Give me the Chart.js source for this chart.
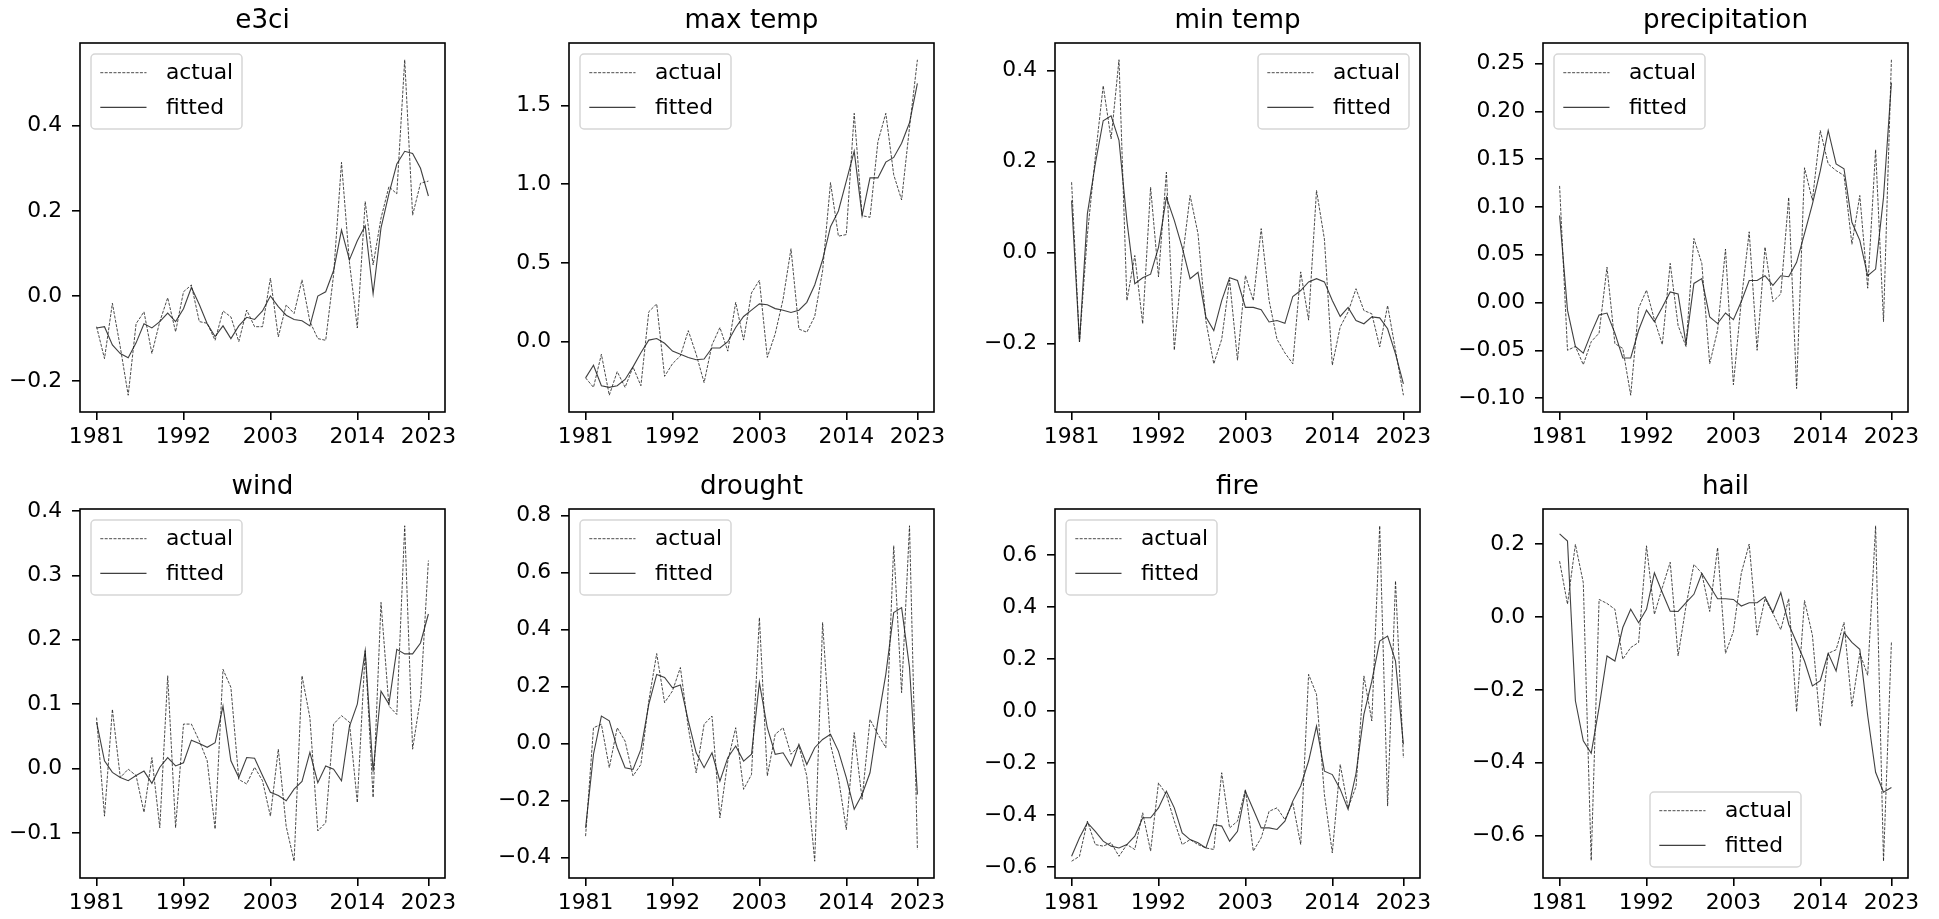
<!DOCTYPE html>
<html lang="en">
<head>
<meta charset="UTF-8">
<title>actual vs fitted</title>
<script src="https://cdn.jsdelivr.net/npm/chart.js@4.4.1/dist/chart.umd.min.js"></script>
<style>
    html, body { margin: 0; padding: 0; background: #fff; }
    body { width: 1939px; height: 919px; position: relative; overflow: hidden; }
    canvas { position: absolute; }
</style>
</head>
<body>
<script>
// years on the x axis
const years = [];
for (let y = 1981; y <= 2023; y++) years.push(y);
const xTicks = [1981, 1992, 2003, 2014, 2023];

const e3ciActual = [-0.072,-0.147,-0.017,-0.12,-0.233,-0.065,-0.037,-0.135,-0.06,-0.004,-0.084,0.01,0.026,-0.06,-0.064,-0.104,-0.035,-0.049,-0.107,-0.033,-0.072,-0.072,0.042,-0.096,-0.021,-0.041,0.038,-0.06,-0.1,-0.104,0.05,0.314,0.08,-0.075,0.222,0.073,0.183,0.257,0.24,0.555,0.19,0.265,0.27];
const e3ciFitted = [-0.075,-0.072,-0.115,-0.135,-0.145,-0.11,-0.065,-0.075,-0.06,-0.04,-0.06,-0.03,0.02,-0.02,-0.065,-0.095,-0.07,-0.1,-0.07,-0.05,-0.055,-0.035,0.0,-0.025,-0.045,-0.055,-0.058,-0.07,0.0,0.01,0.06,0.155,0.085,0.13,0.165,0.005,0.16,0.24,0.31,0.34,0.335,0.3,0.235];
const e3ciTicks = [-0.2, 0, 0.2, 0.4];

const maxTempActual = [-0.23,-0.29,-0.08,-0.34,-0.19,-0.29,-0.16,-0.28,0.19,0.24,-0.22,-0.14,-0.09,0.07,-0.08,-0.26,-0.02,0.09,-0.06,0.25,0.01,0.31,0.39,-0.10,0.05,0.27,0.59,0.08,0.06,0.16,0.45,1.01,0.67,0.68,1.45,0.80,0.79,1.27,1.45,1.06,0.90,1.36,1.79];
const maxTempFitted = [-0.23,-0.15,-0.28,-0.29,-0.28,-0.24,-0.16,-0.07,0.01,0.02,-0.01,-0.06,-0.08,-0.10,-0.115,-0.11,-0.04,-0.04,0.0,0.09,0.16,0.2,0.24,0.235,0.21,0.2,0.185,0.2,0.25,0.36,0.52,0.73,0.83,1.02,1.21,0.8,1.04,1.04,1.14,1.17,1.26,1.39,1.64];
const maxTempTicks = [0, 0.5, 1.0, 1.5];

const minTempActual = [0.155,-0.196,0.04,0.21,0.367,0.25,0.424,-0.105,-0.006,-0.156,0.144,-0.053,0.177,-0.214,-0.017,0.126,0.042,-0.15,-0.244,-0.19,-0.06,-0.236,-0.05,-0.105,0.053,-0.105,-0.19,-0.22,-0.244,-0.042,-0.148,0.137,0.03,-0.247,-0.163,-0.13,-0.079,-0.127,-0.134,-0.207,-0.116,-0.214,-0.313];
const minTempFitted = [0.115,-0.196,0.086,0.195,0.29,0.301,0.247,0.07,-0.068,-0.055,-0.047,0.012,0.122,0.071,0.012,-0.057,-0.043,-0.141,-0.171,-0.105,-0.055,-0.061,-0.12,-0.12,-0.125,-0.152,-0.149,-0.155,-0.096,-0.083,-0.064,-0.057,-0.064,-0.105,-0.14,-0.12,-0.149,-0.156,-0.141,-0.143,-0.167,-0.222,-0.288];
const minTempTicks = [-0.2, 0, 0.2, 0.4];

const precipActual = [0.122,-0.05,-0.046,-0.065,-0.041,-0.032,0.037,-0.043,-0.048,-0.097,-0.006,0.013,-0.018,-0.044,0.041,-0.024,-0.046,0.067,0.041,-0.064,-0.029,0.056,-0.086,0.002,0.074,-0.05,0.058,0.001,0.009,0.11,-0.09,0.141,0.107,0.18,0.145,0.138,0.133,0.061,0.112,0.015,0.16,-0.02,0.254];
const precipFitted = [0.091,-0.008,-0.046,-0.053,-0.032,-0.013,-0.011,-0.032,-0.058,-0.058,-0.029,-0.008,-0.02,-0.005,0.011,0.009,-0.043,0.02,0.025,-0.015,-0.022,-0.011,-0.018,0.001,0.023,0.023,0.028,0.018,0.028,0.027,0.042,0.072,0.103,0.138,0.18,0.145,0.14,0.084,0.065,0.028,0.035,0.11,0.23];
const precipTicks = [-0.1, -0.05, 0, 0.05, 0.1, 0.15, 0.2, 0.25];

const windActual = [0.079,-0.074,0.092,-0.014,-0.001,-0.011,-0.068,0.017,-0.092,0.144,-0.092,0.069,0.069,0.043,0.012,-0.094,0.154,0.126,-0.017,-0.024,0.002,-0.019,-0.074,0.03,-0.09,-0.144,0.144,0.079,-0.097,-0.084,0.069,0.082,0.072,-0.053,0.183,-0.045,0.258,0.097,0.084,0.377,0.03,0.11,0.323];
const windFitted = [0.072,0.012,-0.006,-0.014,-0.019,-0.011,-0.004,-0.023,0.002,0.017,0.004,0.009,0.044,0.039,0.033,0.04,0.097,0.012,-0.014,0.017,0.016,-0.011,-0.037,-0.042,-0.05,-0.032,-0.02,0.025,-0.022,0.004,-0.001,-0.019,0.065,0.1,0.183,-0.005,0.12,0.1,0.185,0.178,0.178,0.195,0.24];
const windTicks = [-0.1, 0, 0.1, 0.2, 0.3, 0.4];

const droughtActual = [-0.324,0.056,0.068,-0.084,0.056,0.009,-0.113,-0.073,0.15,0.316,0.144,0.185,0.267,0.056,-0.102,0.068,0.097,-0.26,-0.061,0.056,-0.16,-0.108,0.442,-0.113,0.033,0.056,-0.037,-0.008,-0.113,-0.412,0.425,-0.002,-0.119,-0.301,0.039,-0.195,0.085,0.033,-0.014,0.694,0.179,0.764,-0.371];
const droughtFitted = [-0.295,-0.037,0.097,0.08,-0.014,-0.084,-0.09,-0.02,0.138,0.243,0.232,0.196,0.206,0.08,-0.032,-0.084,-0.032,-0.131,-0.049,-0.008,-0.061,-0.037,0.214,0.056,-0.037,-0.032,-0.078,-0.002,-0.073,-0.014,0.015,0.033,-0.026,-0.119,-0.23,-0.178,-0.102,0.08,0.243,0.46,0.477,0.267,-0.178];
const droughtTicks = [-0.4, -0.2, 0, 0.2, 0.4, 0.6, 0.8];

const fireActual = [-0.577,-0.558,-0.423,-0.513,-0.519,-0.506,-0.558,-0.513,-0.532,-0.391,-0.538,-0.276,-0.321,-0.423,-0.513,-0.494,-0.513,-0.526,-0.532,-0.237,-0.449,-0.423,-0.301,-0.538,-0.487,-0.385,-0.372,-0.417,-0.353,-0.513,0.141,0.064,-0.321,-0.545,-0.205,-0.372,-0.29,0.135,-0.038,0.712,-0.365,0.5,-0.18];
const fireFitted = [-0.558,-0.487,-0.429,-0.462,-0.5,-0.519,-0.526,-0.513,-0.481,-0.41,-0.41,-0.372,-0.308,-0.372,-0.468,-0.494,-0.506,-0.526,-0.436,-0.442,-0.5,-0.462,-0.308,-0.378,-0.449,-0.449,-0.455,-0.423,-0.346,-0.288,-0.192,-0.058,-0.231,-0.244,-0.3,-0.378,-0.24,-0.013,0.115,0.269,0.288,0.192,-0.128];
const fireTicks = [-0.6, -0.4, -0.2, 0, 0.2, 0.4, 0.6];

const hailActual = [0.153,0.035,0.199,0.094,-0.668,0.048,0.037,0.021,-0.116,-0.084,-0.07,0.195,0.007,0.08,0.15,-0.107,0.03,0.144,0.12,0.015,0.19,-0.1,-0.04,0.12,0.2,-0.05,0.05,0.01,-0.035,0.05,-0.26,0.045,-0.05,-0.3,-0.1,-0.09,-0.015,-0.245,-0.1,-0.16,0.25,-0.67,-0.07];
const hailFitted = [0.228,0.208,-0.23,-0.34,-0.374,-0.248,-0.107,-0.121,-0.029,0.021,-0.016,0.021,0.121,0.067,0.016,0.015,0.039,0.062,0.119,0.085,0.05,0.05,0.048,0.03,0.039,0.039,0.055,0.012,0.067,-0.02,-0.07,-0.121,-0.189,-0.175,-0.1,-0.148,-0.043,-0.07,-0.089,-0.271,-0.426,-0.481,-0.468];
const hailTicks = [-0.6, -0.4, -0.2, 0, 0.2];

const panels = [
    { title: 'e3ci',          actual: e3ciActual,    fitted: e3ciFitted,    ticks: e3ciTicks,    dec: 1 },
    { title: 'max temp',      actual: maxTempActual, fitted: maxTempFitted, ticks: maxTempTicks, dec: 1 },
    { title: 'min temp',      actual: minTempActual, fitted: minTempFitted, ticks: minTempTicks, dec: 1 },
    { title: 'precipitation', actual: precipActual,  fitted: precipFitted,  ticks: precipTicks,  dec: 2 },
    { title: 'wind',          actual: windActual,    fitted: windFitted,    ticks: windTicks,    dec: 1 },
    { title: 'drought',       actual: droughtActual, fitted: droughtFitted, ticks: droughtTicks, dec: 1 },
    { title: 'fire',          actual: fireActual,    fitted: fireFitted,    ticks: fireTicks,    dec: 1 },
    { title: 'hail',          actual: hailActual,    fitted: hailFitted,    ticks: hailTicks,    dec: 1 }
];

// where each legend sits inside its axes
const legendLoc = ['upper left', 'upper left', 'upper right', 'upper left',
                   'upper left', 'upper left', 'upper left', 'lower center'];

// plot area geometry
const colLeft = [80, 569, 1055, 1543];
const rowTop = [43, 509];
const plotW = 365, plotH = 369;
const padL = 90, padR = 20, padT = 50, padB = 60;

Chart.defaults.font.family = '"DejaVu Sans", sans-serif';
Chart.defaults.color = '#000';

// black box around the plot area (matplotlib spines)
const frame = {
    id: 'frame',
    afterDatasetsDraw(chart) {
        const a = chart.chartArea, ctx = chart.ctx;
        ctx.save();
        ctx.strokeStyle = '#000';
        ctx.lineWidth = 1.6;
        ctx.strokeRect(a.left, a.top, a.right - a.left, a.bottom - a.top);
        ctx.restore();
    }
};

// legend drawn inside the axes, like matplotlib
const boxLegend = {
    id: 'boxLegend',
    afterDraw(chart, args, opts) {
        const a = chart.chartArea, ctx = chart.ctx;
        const w = 151, h = 75, gap = 11;
        let x = a.left + gap, y = a.top + gap;
        if (opts.loc === 'upper right') x = a.right - gap - w;
        if (opts.loc === 'lower center') {
            x = (a.left + a.right) / 2 - w / 2;
            y = a.bottom - gap - h;
        }
        ctx.save();
        ctx.beginPath();
        ctx.roundRect(x, y, w, h, 4);
        ctx.fillStyle = 'rgba(255,255,255,0.8)';
        ctx.fill();
        ctx.strokeStyle = '#d6d6d6';
        ctx.lineWidth = 1.5;
        ctx.stroke();
        ctx.font = '21.8px "DejaVu Sans", sans-serif';
        ctx.textBaseline = 'middle';
        ctx.fillStyle = '#000';
        chart.data.datasets.forEach((ds, i) => {
            const cy = y + 18.7 + i * 34.7;
            ctx.beginPath();
            ctx.setLineDash(ds.borderDash || []);
            ctx.strokeStyle = ds.borderColor;
            ctx.lineWidth = ds.borderWidth;
            ctx.moveTo(x + 9.3, cy);
            ctx.lineTo(x + 55.5, cy);
            ctx.stroke();
            ctx.setLineDash([]);
            ctx.fillText(ds.label, x + 75, cy + 1);
        });
        ctx.restore();
    }
};

function fmt(v, dec) {
    return v.toFixed(dec).replace('-', '\u2212');
}

panels.forEach((p, i) => {
    const col = i % 4, row = Math.floor(i / 4);
    const cv = document.createElement('canvas');
    cv.width = plotW + padL + padR;
    cv.height = plotH + padT + padB;
    cv.style.left = (colLeft[col] - padL) + 'px';
    cv.style.top = (rowTop[row] - padT) + 'px';
    document.body.appendChild(cv);

    const all = p.actual.concat(p.fitted);
    const lo = Math.min(...all), hi = Math.max(...all);
    const m = (hi - lo) * 0.05;
    const xm = (years[years.length - 1] - years[0]) * 0.05;

    new Chart(cv, {
        type: 'line',
        data: {
            labels: years,
            datasets: [
                {
                    label: 'actual',
                    data: p.actual,
                    borderColor: 'rgba(30,30,30,0.8)',
                    borderWidth: 1,
                    borderDash: [3, 1.4],
                    pointRadius: 0,
                    tension: 0,
                    order: 1
                },
                {
                    label: 'fitted',
                    data: p.fitted,
                    borderColor: 'rgba(30,30,30,0.85)',
                    borderWidth: 1.1,
                    pointRadius: 0,
                    tension: 0,
                    order: 0
                }
            ]
        },
        options: {
            responsive: false,
            animation: false,
            events: [],
            layout: { padding: { left: 0, right: padR, top: 0, bottom: 0 } },
            plugins: {
                legend: { display: false },
                tooltip: { enabled: false },
                title: {
                    display: true,
                    text: p.title,
                    fullSize: false,
                    color: '#000',
                    font: { size: 26.2, weight: 'normal' },
                    padding: { top: padT - 22 - 15.72, bottom: 22 - 15.72 }
                },
                boxLegend: { loc: legendLoc[i] }
            },
            scales: {
                x: {
                    type: 'linear',
                    min: years[0] - xm,
                    max: years[years.length - 1] + xm,
                    afterBuildTicks: s => { s.ticks = xTicks.map(v => ({ value: v })); },
                    afterFit: s => { s.height = padB; },
                    border: { display: false },
                    grid: { drawOnChartArea: false, drawTicks: true, tickLength: 8, color: '#000', lineWidth: 1.6 },
                    ticks: { autoSkip: false, maxRotation: 0, padding: 4, font: { size: 21.8 }, callback: v => String(v) }
                },
                y: {
                    type: 'linear',
                    min: lo - m,
                    max: hi + m,
                    afterBuildTicks: s => { s.ticks = p.ticks.map(v => ({ value: v })); },
                    afterFit: s => { s.width = padL; },
                    border: { display: false },
                    grid: { drawOnChartArea: false, drawTicks: true, tickLength: 8, color: '#000', lineWidth: 1.6 },
                    ticks: { autoSkip: false, padding: 10, font: { size: 21.8 }, callback: v => fmt(v, p.dec) }
                }
            }
        },
        plugins: [frame, boxLegend]
    });
});
</script>
</body>
</html>
